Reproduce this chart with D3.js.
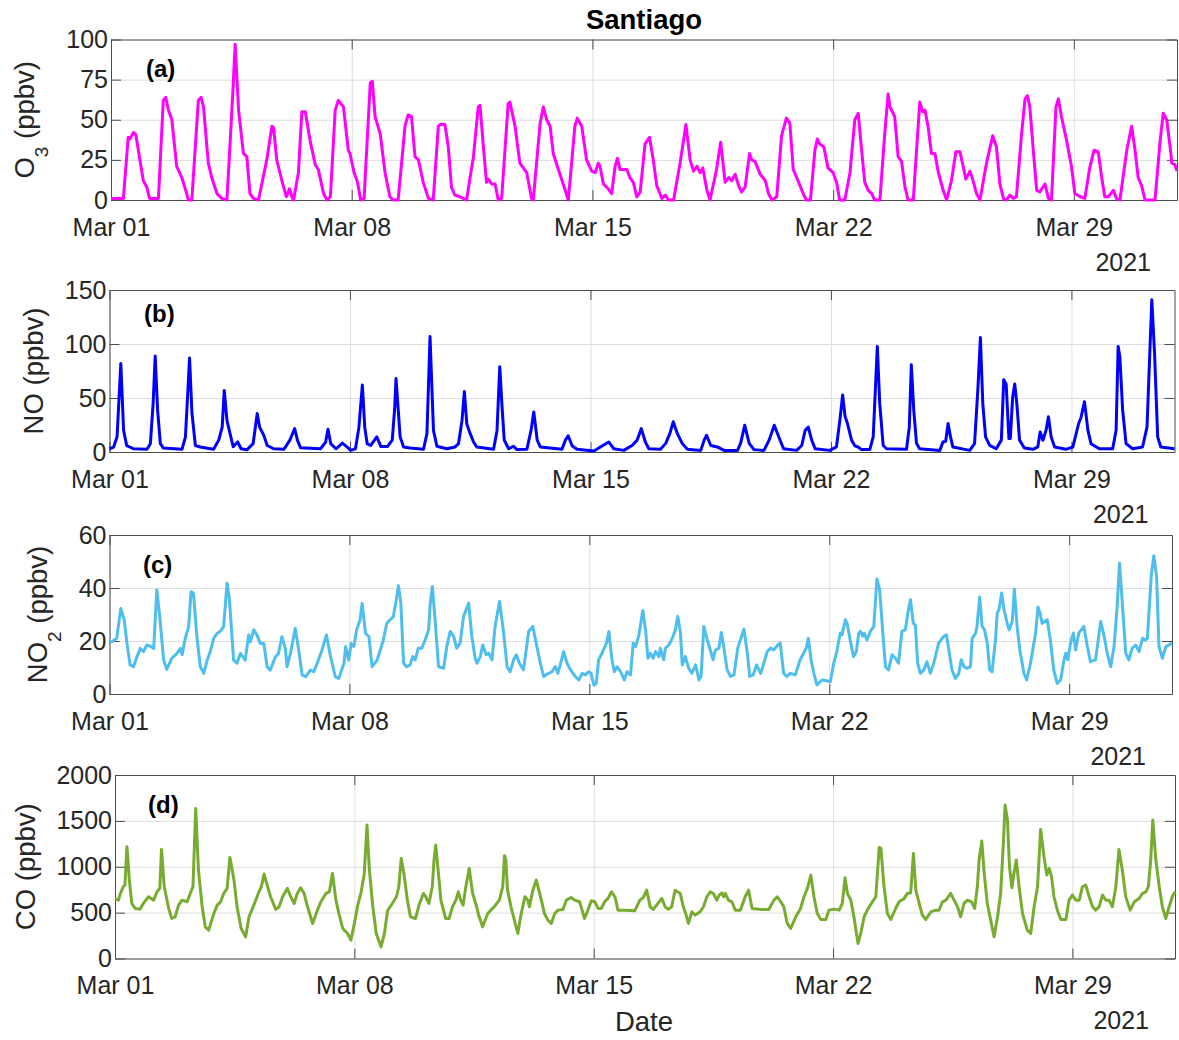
<!DOCTYPE html>
<html>
<head>
<meta charset="utf-8">
<script src="https://cdnjs.cloudflare.com/ajax/libs/d3/7.8.5/d3.min.js"></script>
<style>
  body { margin: 0; background: #fff; }
  text { font-family: "Liberation Sans", Arial, sans-serif; fill: #262626; }
</style>
</head>
<body>
<div id="chart"></div>
<script>
// readings as [days since Mar 01 00:00, value]
const o3Data = [[0,1],[0.36,1],[0.5,39],[0.55,38],[0.65,42],[0.72,41],[0.84,25],[0.94,12],[1.04,8],[1.12,1],[1.38,1],[1.52,62],[1.59,64],[1.67,56],[1.77,50],[1.91,21],[2.06,14],[2.2,4],[2.25,0],[2.35,0],[2.54,62],[2.62,64],[2.69,58],[2.83,23],[2.93,14],[3.08,4],[3.22,1],[3.37,0],[3.45,30],[3.55,70],[3.61,97],[3.71,56],[3.85,29],[3.95,27],[4.04,4],[4.14,1],[4.29,0],[4.53,25],[4.68,46],[4.73,45],[4.82,25],[4.97,12],[5.1,2],[5.19,7],[5.26,2],[5.31,0],[5.45,17],[5.55,55],[5.65,55],[5.79,37],[5.94,22],[6.03,19],[6.18,4],[6.28,0],[6.38,2],[6.52,56],[6.61,62],[6.76,58],[6.9,31],[6.95,29],[7.07,17],[7.17,11],[7.26,0],[7.36,1],[7.54,73],[7.6,74],[7.68,52],[7.83,41],[7.97,17],[8.11,2],[8.2,0],[8.35,0],[8.55,46],[8.64,53],[8.74,52],[8.84,27],[8.94,25],[9.08,11],[9.23,1],[9.37,0],[9.52,46],[9.57,47],[9.71,47],[9.81,33],[9.9,8],[10.0,3],[10.15,2],[10.34,0],[10.54,27],[10.68,58],[10.73,59],[10.83,33],[10.92,11],[10.97,13],[11.07,10],[11.17,10],[11.26,0],[11.36,1],[11.55,60],[11.6,61],[11.75,46],[11.89,23],[12.09,17],[12.23,1],[12.28,0],[12.48,48],[12.57,58],[12.67,50],[12.77,46],[12.86,29],[13.01,19],[13.15,10],[13.3,0],[13.49,46],[13.56,51],[13.69,46],[13.83,25],[13.98,18],[14.08,17],[14.17,23],[14.22,21],[14.32,10],[14.46,7],[14.56,4],[14.66,21],[14.73,26],[14.8,19],[15.0,19],[15.09,14],[15.19,11],[15.29,2],[15.39,5],[15.53,35],[15.66,39],[15.77,25],[15.87,9],[16.02,1],[16.12,3],[16.21,0],[16.36,0],[16.55,23],[16.72,47],[16.84,25],[16.94,18],[17.04,21],[17.13,17],[17.21,20],[17.33,6],[17.42,0],[17.61,19],[17.73,36],[17.86,11],[17.96,14],[18.05,12],[18.15,16],[18.25,9],[18.34,5],[18.44,8],[18.57,29],[18.63,25],[18.73,24],[18.88,16],[19.03,12],[19.12,4],[19.22,0],[19.36,2],[19.5,40],[19.64,51],[19.74,48],[19.84,19],[19.98,12],[20.13,4],[20.22,0],[20.34,0],[20.47,31],[20.54,38],[20.61,35],[20.73,33],[20.85,20],[21.0,17],[21.1,11],[21.19,0],[21.34,0],[21.49,17],[21.63,50],[21.73,54],[21.82,33],[21.92,11],[22.02,6],[22.12,4],[22.21,0],[22.36,0],[22.5,41],[22.6,66],[22.65,58],[22.79,52],[22.89,27],[22.99,24],[23.09,8],[23.18,0],[23.33,0],[23.47,45],[23.52,61],[23.6,55],[23.67,56],[23.76,46],[23.86,29],[23.96,29],[24.06,17],[24.2,6],[24.3,0],[24.44,12],[24.57,30],[24.69,30],[24.78,21],[24.86,13],[24.98,18],[25.07,12],[25.17,4],[25.27,0],[25.46,23],[25.64,40],[25.75,33],[25.85,10],[25.95,1],[26.04,0],[26.14,3],[26.24,1],[26.33,2],[26.48,41],[26.58,63],[26.65,65],[26.72,58],[26.82,31],[26.92,6],[27.01,5],[27.16,10],[27.26,1],[27.35,0],[27.48,58],[27.55,63],[27.64,52],[27.79,37],[27.93,21],[28.03,4],[28.18,2],[28.32,1],[28.47,21],[28.59,31],[28.71,30],[28.81,14],[28.9,2],[29.0,2],[29.15,6],[29.24,1],[29.34,0],[29.54,31],[29.68,46],[29.78,31],[29.87,14],[29.97,9],[30.07,0],[30.36,0],[30.51,37],[30.6,54],[30.7,50],[30.8,33],[30.85,23],[30.94,22],[31.0,18]];

const noData = [[0,3],[0.12,4.6],[0.22,14],[0.33,82],[0.41,20],[0.5,6],[0.7,3],[1.09,2.5],[1.19,7.7],[1.27,45],[1.33,89],[1.4,39],[1.48,7.7],[1.57,3.7],[2.11,2.5],[2.21,14],[2.27,50],[2.33,87],[2.4,36],[2.5,6],[2.64,4.6],[3.03,2.5],[3.18,11],[3.28,23],[3.34,57],[3.42,29],[3.52,15.5],[3.6,5],[3.73,9.3],[3.83,3],[4.0,2],[4.18,7.7],[4.3,35.6],[4.37,23],[4.49,15.5],[4.59,6],[4.78,3],[5.08,2.5],[5.25,11],[5.39,21.6],[5.47,11],[5.56,4],[6.14,3],[6.29,9],[6.36,21],[6.44,7.7],[6.59,3],[6.78,8.3],[6.92,4.6],[7.02,1.5],[7.16,3],[7.26,23],[7.36,62],[7.43,23],[7.5,7.7],[7.6,6],[7.78,14],[7.9,5],[8.09,5],[8.23,11],[8.3,40],[8.34,68],[8.46,14],[8.56,4.7],[8.75,3.7],[9.14,2.5],[9.24,17],[9.33,107],[9.43,20],[9.53,5.3],[9.82,3],[10.06,4.7],[10.16,7.8],[10.26,29],[10.33,56],[10.4,26],[10.5,17],[10.6,9],[10.69,4.7],[11.18,2.5],[11.28,20],[11.36,79],[11.42,45],[11.49,11],[11.62,3],[11.76,5.3],[11.86,2.2],[12.15,2.5],[12.27,20],[12.35,37],[12.45,11],[12.54,4.7],[13.17,2.5],[13.27,11],[13.35,15],[13.47,5.6],[13.61,2.5],[14.1,1],[14.29,4.7],[14.53,9.3],[14.68,3],[14.97,1.5],[15.22,6.2],[15.36,11],[15.48,21.7],[15.6,9],[15.7,3],[16.04,2.5],[16.19,8],[16.31,17],[16.41,28],[16.53,17],[16.67,8],[16.82,2.5],[17.21,1.5],[17.31,11],[17.38,15.5],[17.5,6],[17.69,4.7],[17.89,1.5],[18.28,1.5],[18.37,8],[18.49,24.8],[18.62,8],[18.76,2.2],[19.05,1.5],[19.2,11],[19.35,24.8],[19.52,10.9],[19.62,3],[20.0,1.5],[20.15,6],[20.25,20],[20.34,23],[20.44,11],[20.54,3],[20.97,1.5],[21.16,4.7],[21.26,29.5],[21.34,52.8],[21.41,33],[21.48,26.4],[21.6,11],[21.7,5.6],[21.79,4.6],[21.89,2.2],[22.13,2.2],[22.23,14],[22.35,97.8],[22.42,45],[22.52,6],[22.62,3],[23.2,2.5],[23.28,23],[23.34,80.7],[23.41,39],[23.49,8],[23.58,3],[24.17,1.5],[24.26,9.3],[24.34,10],[24.41,26.4],[24.48,14],[24.55,4.6],[25.04,1.5],[25.18,7.7],[25.28,60],[25.35,106],[25.42,45],[25.5,14],[25.62,6.2],[25.81,3],[25.96,11],[26.03,67],[26.1,63],[26.18,12.4],[26.22,12.4],[26.29,51],[26.35,63],[26.41,45],[26.49,11],[26.63,3.7],[26.88,2.5],[27.02,4.7],[27.09,18.6],[27.17,10.9],[27.26,20],[27.33,32.6],[27.41,14],[27.51,4.6],[27.84,2.5],[28.04,4.6],[28.21,26.4],[28.28,32],[28.38,46.6],[28.48,20],[28.57,7.7],[28.81,3],[29.2,3],[29.3,20],[29.36,97.8],[29.41,88],[29.49,39],[29.59,7.7],[29.78,3],[30.07,4.6],[30.2,23],[30.28,91],[30.34,141],[30.42,91],[30.51,14],[30.6,4.6],[31.0,3]];

const no2Data = [[0,19.7],[0.07,19.7],[0.21,21],[0.33,32.3],[0.43,27.9],[0.51,19.1],[0.6,11],[0.7,10.3],[0.8,14],[0.9,17.2],[0.99,16],[1.09,18.5],[1.19,18],[1.29,17.2],[1.38,39.2],[1.46,30],[1.58,12.8],[1.67,9.3],[1.82,13.5],[1.97,15.3],[2.07,17.2],[2.12,14.8],[2.21,21],[2.31,25.4],[2.38,38.6],[2.45,38],[2.55,21.6],[2.65,10.3],[2.75,7.8],[2.85,12.8],[2.94,16],[3.04,21],[3.14,22.9],[3.23,23.6],[3.33,25.4],[3.43,41.8],[3.5,35.5],[3.62,12.8],[3.72,11.6],[3.82,15.3],[3.96,12.8],[4.06,22.3],[4.11,19.7],[4.21,24.2],[4.3,22.3],[4.4,19.1],[4.5,19.1],[4.6,10.3],[4.69,9],[4.84,14],[4.93,15.3],[5.03,21.6],[5.13,17.2],[5.18,10.3],[5.28,15.3],[5.42,24.8],[5.52,16.6],[5.62,7.2],[5.72,6.5],[5.86,9],[5.96,8.4],[6.06,11.6],[6.2,16.6],[6.33,22.3],[6.45,14],[6.59,6.5],[6.69,5.9],[6.84,11.6],[6.89,17.9],[6.98,12.8],[7.05,19.1],[7.13,17.9],[7.21,24.2],[7.31,27.9],[7.37,34.2],[7.47,22.9],[7.57,21.6],[7.66,10.3],[7.81,12.8],[7.9,16.6],[7.99,20.4],[8.09,26.7],[8.19,28],[8.28,29.2],[8.36,34.9],[8.43,40.9],[8.5,34.4],[8.58,11.6],[8.67,10.3],[8.77,11],[8.85,14.1],[8.92,12.9],[9.01,17.3],[9.11,17.3],[9.21,20.4],[9.31,24.2],[9.36,34.4],[9.42,40.6],[9.5,28],[9.6,10.3],[9.75,9.7],[9.84,17.9],[9.94,23.6],[10.04,21.8],[10.13,17.3],[10.23,19.2],[10.33,29.3],[10.48,34.3],[10.57,21.8],[10.67,13.5],[10.72,11.6],[10.82,14.1],[10.89,18.5],[10.99,14.8],[11.06,15.4],[11.16,12.9],[11.25,25.5],[11.38,34.9],[11.5,23],[11.6,10.3],[11.69,8.4],[11.79,12.9],[11.87,14.8],[11.96,11.6],[12.08,9.1],[12.23,23.6],[12.35,25.5],[12.47,17.9],[12.57,11.6],[12.67,6.6],[12.81,7.8],[12.91,8.4],[13.01,10.3],[13.08,7.8],[13.15,10.9],[13.25,16],[13.35,11.6],[13.45,9.1],[13.59,6.6],[13.69,5.3],[13.79,7.8],[13.88,7.2],[13.98,8.4],[14.05,7.8],[14.13,3.4],[14.2,4],[14.27,12.9],[14.37,15.4],[14.5,19.2],[14.57,23.6],[14.66,12.9],[14.73,8.4],[14.81,10.3],[14.91,8.4],[15.02,5.3],[15.1,8.4],[15.2,7.2],[15.28,19.2],[15.35,17.9],[15.44,21.8],[15.56,31.5],[15.64,24.2],[15.71,13.5],[15.78,15.4],[15.86,13.5],[15.93,16],[16.03,14.1],[16.07,17.3],[16.17,12.9],[16.22,17.3],[16.32,18.5],[16.42,21],[16.51,24.2],[16.58,29.3],[16.66,23],[16.71,11],[16.8,14.1],[16.9,9.7],[16.99,7.8],[17.1,11],[17.2,5.3],[17.26,6.6],[17.34,25.5],[17.44,20.4],[17.53,16.6],[17.61,12.9],[17.68,16.6],[17.78,17.3],[17.85,23.2],[17.92,17.9],[18.02,9.1],[18.12,6.6],[18.22,7.2],[18.33,17.3],[18.51,24.5],[18.61,15.4],[18.68,6.6],[18.78,7.2],[18.88,11],[19.0,7.8],[19.09,11.6],[19.19,16],[19.29,17.3],[19.38,16.6],[19.5,18.5],[19.57,19.2],[19.67,7.8],[19.76,6.6],[19.86,7.8],[20.01,7.2],[20.15,12.9],[20.25,15.4],[20.33,17.3],[20.39,21],[20.47,12.9],[20.55,7.8],[20.64,3.4],[20.79,5.3],[20.93,5],[21.03,4.6],[21.13,11.6],[21.22,16],[21.32,23],[21.37,22.3],[21.47,28],[21.52,26.7],[21.61,20.4],[21.71,14.1],[21.79,16],[21.86,23],[21.91,23.6],[21.98,21.8],[22.02,23],[22.1,20.4],[22.2,23.6],[22.3,25.5],[22.39,43.4],[22.47,39.4],[22.57,21.8],[22.64,10.3],[22.73,9.1],[22.83,14.8],[22.93,13.5],[23.02,11.6],[23.12,23.6],[23.22,24.2],[23.29,30.5],[23.37,35.6],[23.45,26.7],[23.51,26.1],[23.58,11.6],[23.66,7.8],[23.76,9.1],[23.85,12.2],[23.95,7.8],[24.05,11.6],[24.19,19.2],[24.34,21.8],[24.42,22.3],[24.49,16.6],[24.58,9.1],[24.68,5.9],[24.78,7.8],[24.85,12.9],[24.93,10.3],[25.02,9.7],[25.12,10.3],[25.17,21],[25.27,22.9],[25.31,25.5],[25.39,36.6],[25.46,25.5],[25.53,24.2],[25.61,19.2],[25.68,9.1],[25.75,8.4],[25.85,20.4],[25.9,30.5],[25.95,31.8],[26.03,38.1],[26.09,32.4],[26.19,26.7],[26.25,24.2],[26.34,27.4],[26.4,39.6],[26.48,25.5],[26.56,16.6],[26.68,7.8],[26.76,5.3],[26.87,11.6],[27.02,22.9],[27.09,32.8],[27.15,30.5],[27.21,26.7],[27.36,28],[27.45,20.4],[27.55,9.1],[27.65,4],[27.75,5.3],[27.85,12.9],[27.9,15.4],[27.96,12.9],[28.04,19.2],[28.12,23],[28.19,16.6],[28.28,23],[28.43,25.5],[28.53,17.9],[28.62,12.2],[28.77,12.9],[28.92,27.4],[29.02,21.8],[29.11,15.4],[29.21,10.3],[29.31,17.9],[29.4,33],[29.47,49.4],[29.55,34.4],[29.65,15.4],[29.74,12.9],[29.84,17.3],[29.94,18.5],[30.04,16],[30.14,21],[30.23,20.4],[30.28,21],[30.4,45.4],[30.47,52.2],[30.55,44.4],[30.62,17.9],[30.72,13.5],[30.82,17.9],[30.91,18.5],[31.0,19.2]];

const coData = [[0,650],[0.1,636],[0.15,700],[0.24,782],[0.29,800],[0.35,1218],[0.42,855],[0.49,600],[0.59,545],[0.73,538],[0.83,600],[0.98,673],[1.13,636],[1.23,727],[1.31,764],[1.36,1189],[1.44,782],[1.57,545],[1.66,436],[1.76,455],[1.86,582],[1.96,636],[2.11,618],[2.2,709],[2.28,782],[2.36,1636],[2.44,964],[2.55,564],[2.64,345],[2.74,309],[2.89,491],[2.99,582],[3.09,618],[3.18,709],[3.28,764],[3.36,1102],[3.48,855],[3.57,564],[3.69,327],[3.82,236],[3.92,455],[4.06,582],[4.21,727],[4.28,782],[4.36,920],[4.45,800],[4.55,673],[4.7,535],[4.8,564],[4.9,673],[5.04,764],[5.14,673],[5.24,600],[5.33,709],[5.43,771],[5.53,709],[5.63,564],[5.78,382],[5.92,527],[6.02,618],[6.17,709],[6.27,727],[6.36,927],[6.46,636],[6.56,473],[6.66,327],[6.8,273],[6.9,200],[7.0,382],[7.1,582],[7.2,727],[7.29,927],[7.37,1455],[7.44,964],[7.54,564],[7.64,273],[7.78,127],[7.88,273],[7.97,520],[8.11,600],[8.23,673],[8.3,782],[8.37,1091],[8.45,927],[8.55,636],[8.64,455],[8.79,436],[8.89,582],[9.02,709],[9.09,673],[9.18,600],[9.28,782],[9.33,1073],[9.38,1236],[9.45,964],[9.53,636],[9.67,436],[9.77,436],[9.87,564],[9.97,636],[10.04,727],[10.11,636],[10.18,582],[10.26,782],[10.36,982],[10.46,709],[10.55,600],[10.65,455],[10.75,345],[10.9,491],[10.99,527],[11.09,564],[11.24,636],[11.34,782],[11.39,1120],[11.43,1073],[11.48,745],[11.58,564],[11.68,418],[11.78,273],[11.88,491],[11.99,673],[12.07,636],[12.12,564],[12.22,745],[12.32,855],[12.42,709],[12.56,491],[12.66,418],[12.76,382],[12.86,491],[12.95,527],[13.1,535],[13.2,636],[13.34,665],[13.44,636],[13.59,618],[13.73,436],[13.83,527],[13.93,629],[14.03,618],[14.13,545],[14.22,545],[14.32,618],[14.42,655],[14.52,727],[14.62,673],[14.71,527],[14.91,527],[15.2,520],[15.35,636],[15.45,665],[15.55,745],[15.65,564],[15.74,535],[15.84,582],[15.99,655],[16.09,564],[16.18,535],[16.28,564],[16.38,745],[16.53,709],[16.62,564],[16.69,491],[16.77,382],[16.87,509],[16.97,473],[17.11,509],[17.21,564],[17.31,673],[17.41,727],[17.5,709],[17.6,636],[17.67,691],[17.75,716],[17.8,673],[17.85,709],[17.94,636],[18.04,618],[18.14,527],[18.29,527],[18.43,673],[18.53,745],[18.63,545],[18.92,535],[19.12,535],[19.27,636],[19.37,673],[19.47,618],[19.56,564],[19.66,382],[19.76,327],[19.91,455],[20.05,545],[20.15,673],[20.25,764],[20.35,909],[20.44,673],[20.54,491],[20.64,425],[20.79,425],[20.88,527],[21.03,538],[21.18,527],[21.27,600],[21.35,880],[21.42,709],[21.52,636],[21.61,455],[21.73,164],[21.81,273],[21.91,455],[22.0,527],[22.15,618],[22.25,673],[22.35,1211],[22.4,1200],[22.49,782],[22.59,491],[22.69,425],[22.83,545],[22.93,618],[23.08,655],[23.17,709],[23.27,716],[23.35,1145],[23.42,745],[23.52,600],[23.61,473],[23.71,425],[23.86,509],[24.0,527],[24.1,527],[24.2,618],[24.3,636],[24.44,709],[24.54,636],[24.64,564],[24.73,455],[24.83,600],[24.93,636],[25.05,618],[25.14,545],[25.22,782],[25.27,1073],[25.35,1280],[25.42,927],[25.51,600],[25.61,418],[25.71,236],[25.81,455],[25.9,709],[25.98,1255],[26.03,1673],[26.1,1509],[26.16,1000],[26.23,771],[26.29,927],[26.36,1073],[26.44,782],[26.54,491],[26.68,309],[26.78,273],[26.88,564],[26.98,782],[27.07,1407],[27.17,1109],[27.25,909],[27.32,982],[27.39,891],[27.46,673],[27.56,527],[27.66,425],[27.81,425],[27.9,636],[28.0,691],[28.1,636],[28.2,636],[28.29,782],[28.39,800],[28.49,673],[28.59,564],[28.68,527],[28.78,564],[28.88,691],[28.98,636],[29.07,636],[29.17,564],[29.27,782],[29.36,1189],[29.46,964],[29.56,673],[29.69,527],[29.81,618],[29.95,655],[30.05,709],[30.15,727],[30.22,782],[30.29,1073],[30.35,1509],[30.44,1073],[30.54,782],[30.63,564],[30.73,436],[30.83,564],[30.92,673],[31.0,727]];

const o3Ticks = [0, 25, 50, 75, 100];
const noTicks = [0, 50, 100, 150];
const no2Ticks = [0, 20, 40, 60];
const coTicks = [0, 500, 1000, 1500, 2000];
const dateTicks = ["2021-03-01", "2021-03-08", "2021-03-15", "2021-03-22", "2021-03-29"];
const panelLetters = ["(a)", "(b)", "(c)", "(d)"];

const width = 1179;
const height = 1040;
const dayMs = 86400000;
const start = new Date(Date.UTC(2021, 2, 1));
const end = new Date(Date.UTC(2021, 3, 1));
const tickDates = dateTicks.map(d => new Date(d + "T00:00:00Z"));
const axisColor = "#4d4d4d";
const gridColor = "#dedede";
const tickFont = 25;

const svg = d3.select("#chart")
    .append("svg")
    .attr("width", width)
    .attr("height", height);

// box positions per panel
const panels = [
    {data: o3Data, ticks: o3Ticks, color: "#ff00ff", name: "O", sub: "3",
     l: 111, r: 1177, t: 39.5, b: 200, lx: 146, ly: 77, labelX: 33.5},
    {data: noData, ticks: noTicks, color: "#0000ff", name: "NO", sub: null,
     l: 109.5, r: 1174.5, t: 290, b: 452, lx: 144, ly: 322, labelX: 43},
    {data: no2Data, ticks: no2Ticks, color: "#4dbeee", name: "NO", sub: "2",
     l: 109.5, r: 1172, t: 535, b: 694, lx: 143, ly: 573, labelX: 46.5},
    {data: coData, ticks: coTicks, color: "#77ac30", name: "CO", sub: null,
     l: 115, r: 1175, t: 775, b: 958.5, lx: 148, ly: 813, labelX: 35}
];

function styleAxis(sel) {
    sel.attr("color", axisColor)
        .attr("font-size", tickFont)
        .attr("font-family", "Liberation Sans, Arial, sans-serif");
    sel.selectAll("line").attr("stroke-width", 1);
    sel.select(".domain").attr("stroke-width", 1);
}

panels.forEach((p, i) => {
    const x = d3.scaleUtc().domain([start, end]).range([p.l, p.r]);
    const y = d3.scaleLinear().domain([0, d3.max(p.ticks)]).range([p.b, p.t]);
    const g = svg.append("g");

    // grid
    g.append("g")
        .attr("transform", "translate(0," + p.b + ")")
        .call(d3.axisBottom(x).tickValues(tickDates).tickSize(-(p.b - p.t)).tickFormat(""))
        .call(s => s.select(".domain").remove())
        .selectAll("line").attr("stroke", gridColor);
    g.append("g")
        .attr("transform", "translate(" + p.l + ",0)")
        .call(d3.axisLeft(y).tickValues(p.ticks).tickSize(-(p.r - p.l)).tickFormat(""))
        .call(s => s.select(".domain").remove())
        .selectAll("line").attr("stroke", gridColor);

    // axes, ticks pointing inward on all four sides
    g.append("g")
        .attr("transform", "translate(0," + p.b + ")")
        .call(d3.axisBottom(x).tickValues(tickDates).tickSize(-10).tickSizeOuter(0)
            .tickPadding(18).tickFormat(d3.utcFormat("%b %d")))
        .call(styleAxis);
    g.append("g")
        .attr("transform", "translate(0," + p.t + ")")
        .call(d3.axisTop(x).tickValues(tickDates).tickSize(-10).tickSizeOuter(0).tickFormat(""))
        .call(styleAxis);
    g.append("g")
        .attr("transform", "translate(" + p.l + ",0)")
        .call(d3.axisLeft(y).tickValues(p.ticks).tickSize(-10).tickSizeOuter(0).tickPadding(3)
            .tickFormat(d3.format("d")))
        .call(styleAxis);
    g.append("g")
        .attr("transform", "translate(" + p.r + ",0)")
        .call(d3.axisRight(y).tickValues(p.ticks).tickSize(-10).tickSizeOuter(0).tickFormat(""))
        .call(styleAxis);

    const line = d3.line()
        .x(d => x(new Date(start.getTime() + d[0] * dayMs)))
        .y(d => y(d[1]));

    g.append("path")
        .datum(p.data)
        .attr("fill", "none")
        .attr("stroke", p.color)
        .attr("stroke-width", 3)
        .attr("stroke-linejoin", "round")
        .attr("d", line);

    // panel letter
    g.append("text")
        .attr("x", p.lx)
        .attr("y", p.ly)
        .attr("font-size", 24)
        .attr("font-weight", "bold")
        .style("fill", "#000")
        .text(panelLetters[i]);

    // year under the last date tick
    g.append("text")
        .attr("x", p.r - 26)
        .attr("y", p.b + 70.5)
        .attr("text-anchor", "end")
        .attr("font-size", tickFont)
        .text("2021");

    // y label with optional subscript
    const lab = g.append("text")
        .attr("transform", "translate(" + p.labelX + "," + ((p.t + p.b) / 2) + ") rotate(-90)")
        .attr("text-anchor", "middle")
        .attr("font-size", 27.5);
    lab.append("tspan").text(p.name);
    if (p.sub) {
        lab.append("tspan").attr("font-size", 19).attr("dy", 14).text(p.sub);
        lab.append("tspan").attr("dy", -14).text(" (ppbv)");
    } else {
        lab.append("tspan").text(" (ppbv)");
    }
});

svg.append("text")
    .attr("x", 644)
    .attr("y", 29)
    .attr("text-anchor", "middle")
    .attr("font-size", 27.5)
    .attr("font-weight", "bold")
    .style("fill", "#000")
    .text("Santiago");

svg.append("text")
    .attr("x", 644)
    .attr("y", 1031)
    .attr("text-anchor", "middle")
    .attr("font-size", 27.5)
    .text("Date");
</script>
</body>
</html>
